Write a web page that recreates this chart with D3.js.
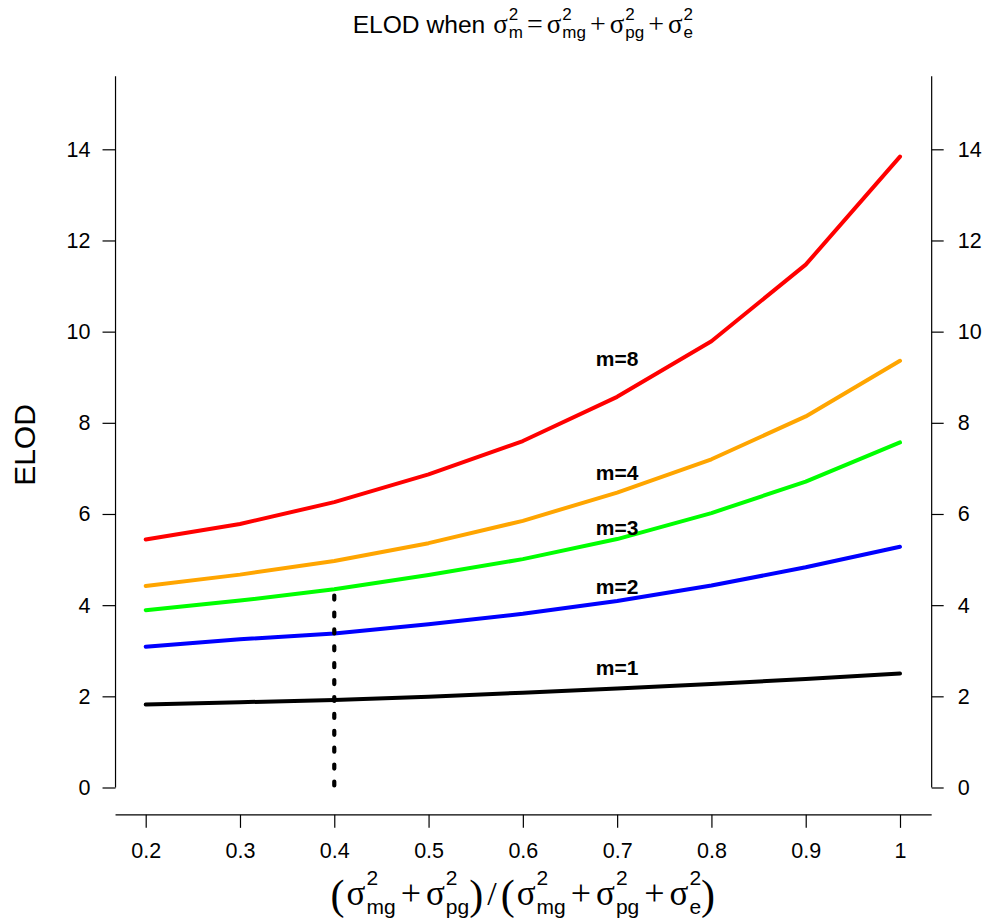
<!DOCTYPE html>
<html>
<head>
<meta charset="utf-8">
<script src="https://cdn.jsdelivr.net/npm/d3@7"></script>
<style>
  body { margin: 0; background: #fff; }
  svg text { fill: #000; }
</style>
</head>
<body>
<div class="chart"></div>
<script>
// x values (variance ratio) and ELOD for each number of markers m
const ratios = [0.2, 0.3, 0.4, 0.5, 0.6, 0.7, 0.8, 0.9, 1.0];
const elodM1 = [1.82, 1.87, 1.92, 1.99, 2.08, 2.17, 2.27, 2.38, 2.50];
const elodM2 = [3.09, 3.25, 3.38, 3.58, 3.81, 4.09, 4.43, 4.83, 5.28];
const elodM3 = [3.89, 4.10, 4.35, 4.66, 5.01, 5.45, 6.02, 6.71, 7.57];
const elodM4 = [4.42, 4.67, 4.97, 5.36, 5.85, 6.47, 7.20, 8.14, 9.36];
const elodM8 = [5.44, 5.78, 6.26, 6.87, 7.60, 8.57, 9.79, 11.47, 13.84];

const seriesNames = ["m=1", "m=2", "m=3", "m=4", "m=8"];
const seriesColors = ["#000000", "#0000ff", "#00ff00", "#ffa500", "#ff0000"];
const labelX = 0.7;
const labelY = [2.64, 4.40, 5.71, 6.91, 9.41];

const xTicks = [0.2, 0.3, 0.4, 0.5, 0.6, 0.7, 0.8, 0.9, 1];
const yTicks = [0, 2, 4, 6, 8, 10, 12, 14];
const markX = 0.4;       // dotted reference line
const markTop = 4.3;

const width = 988, height = 923;
const sans = "'Liberation Sans', Arial, Helvetica, sans-serif";
const serif = "'Liberation Serif', 'Times New Roman', serif";

const svg = d3.select(".chart").append("svg")
    .attr("width", width)
    .attr("height", height);

const x = d3.scaleLinear().domain([0.2, 1]).range([145.7, 900]);
const y = d3.scaleLinear().domain([0, 14]).range([787.5, 149.3]);

const plotLeft = x(0.168), plotRight = x(1.032);
const plotTop = y(15.6), plotBottom = y(-0.6);

// left axis
const yAxisL = svg.append("g")
    .attr("transform", `translate(${plotLeft},0)`)
    .call(d3.axisLeft(y).tickValues(yTicks).tickSize(13).tickPadding(12).tickFormat(d3.format("d")));
yAxisL.select(".domain").remove();
yAxisL.append("line")
    .attr("y1", y(0)).attr("y2", plotTop)
    .attr("stroke", "#000").attr("stroke-width", 1.2);

// right axis
const yAxisR = svg.append("g")
    .attr("transform", `translate(${plotRight + 1.5},0)`)
    .call(d3.axisRight(y).tickValues(yTicks).tickSize(12).tickPadding(14).tickFormat(d3.format("d")));
yAxisR.select(".domain").remove();
yAxisR.append("line")
    .attr("y1", y(0)).attr("y2", plotTop)
    .attr("stroke", "#000").attr("stroke-width", 1.2);

// bottom axis
const xAxis = svg.append("g")
    .attr("transform", `translate(0,${plotBottom})`)
    .call(d3.axisBottom(x).tickValues(xTicks).tickSize(13).tickPadding(15)
        .tickFormat(d => d === 1 ? "1" : d3.format(".1f")(d)));
xAxis.select(".domain").remove();
xAxis.append("line")
    .attr("x1", plotLeft).attr("x2", plotRight + 1.5)
    .attr("stroke", "#000").attr("stroke-width", 1.2);

svg.selectAll(".tick line").attr("stroke", "#000").attr("stroke-width", 1.2);
svg.selectAll(".tick text")
    .style("font-family", sans)
    .style("font-size", "21.5px");

// lines
const allSeries = [elodM1, elodM2, elodM3, elodM4, elodM8];
const line = d3.line()
    .x((d, i) => x(ratios[i]))
    .y(d => y(d));

svg.append("g")
    .selectAll("path")
    .data(allSeries)
    .enter().append("path")
    .attr("d", d => line(d))
    .attr("fill", "none")
    .attr("stroke", (d, i) => seriesColors[i])
    .attr("stroke-width", 4)
    .attr("stroke-linecap", "round")
    .attr("stroke-linejoin", "round");

// dotted line at 0.4
svg.append("line")
    .attr("x1", x(markX)).attr("x2", x(markX))
    .attr("y1", y(0) - 2).attr("y2", y(markTop))
    .attr("stroke", "#000")
    .attr("stroke-width", 4.2)
    .attr("stroke-linecap", "round")
    .attr("stroke-dasharray", "4,12.9");

// series labels
svg.append("g")
    .selectAll("text")
    .data(seriesNames)
    .enter().append("text")
    .attr("x", x(labelX))
    .attr("y", (d, i) => y(labelY[i]))
    .attr("dy", "0.35em")
    .attr("text-anchor", "middle")
    .style("font-family", sans)
    .style("font-weight", "bold")
    .style("font-size", "21px")
    .text(d => d);

// y label
svg.append("text")
    .attr("transform", `translate(35,445) rotate(-90)`)
    .attr("text-anchor", "middle")
    .style("font-family", sans)
    .style("font-size", "30px")
    .text("ELOD");

// plotmath-like label: sigma with stacked super/subscripts
function mathText(g, parts, o) {
  let cx = 0;
  parts.forEach(p => {
    if (p.sig) {
      const s = g.append("text").attr("x", cx).attr("y", 0)
          .style("font-family", serif).style("font-size", o.sig + "px").text("σ");
      cx += s.node().getComputedTextLength() + 1;
      const a = g.append("text").attr("x", cx).attr("y", -o.sup)
          .style("font-family", sans).style("font-size", o.script + "px").text("2");
      const b = g.append("text").attr("x", cx).attr("y", o.sub)
          .style("font-family", sans).style("font-size", o.script + "px").text(p.sub);
      cx += Math.max(a.node().getComputedTextLength(), b.node().getComputedTextLength());
    } else {
      const sz = p.size || o.size;
      const t = g.append("text").attr("x", cx + (p.pl || 0)).attr("y", p.dy || 0)
          .style("font-family", p.font || serif).style("font-size", sz + "px").text(p.t);
      cx += (p.pl || 0) + t.node().getComputedTextLength() + (p.pr || 0);
    }
  });
  return cx;
}

// title
const titleG = svg.append("g");
const titleW = mathText(titleG, [
  { t: "ELOD when", font: sans, pr: 8 },
  { sig: true, sub: "m" },
  { t: "=", size: 28, pl: 4, pr: 4 },
  { sig: true, sub: "mg" },
  { t: "+", size: 28, pl: 4, pr: 4 },
  { sig: true, sub: "pg" },
  { t: "+", size: 28, pl: 4, pr: 4 },
  { sig: true, sub: "e" }
], { size: 24.6, sig: 27, script: 17, sup: 13, sub: 5 });
titleG.attr("transform", `translate(${(plotLeft + plotRight) / 2 - titleW / 2},33)`);

// x label
const xlabG = svg.append("g");
const xlabW = mathText(xlabG, [
  { t: "(", size: 42, dy: 4, pr: 2 },
  { sig: true, sub: "mg" },
  { t: "+", size: 36, pl: 5, pr: 5 },
  { sig: true, sub: "pg" },
  { t: ")", size: 42, dy: 4, pr: 4 },
  { t: "/", size: 34, pr: 4 },
  { t: "(", size: 42, dy: 4, pr: 2 },
  { sig: true, sub: "mg" },
  { t: "+", size: 36, pl: 5, pr: 5 },
  { sig: true, sub: "pg" },
  { t: "+", size: 36, pl: 5, pr: 5 },
  { sig: true, sub: "e" },
  { t: ")", size: 42, dy: 4 }
], { size: 31, sig: 35, script: 21, sup: 20, sub: 9 });
xlabG.attr("transform", `translate(${(plotLeft + plotRight) / 2 - xlabW / 2},905)`);
</script>
</body>
</html>
